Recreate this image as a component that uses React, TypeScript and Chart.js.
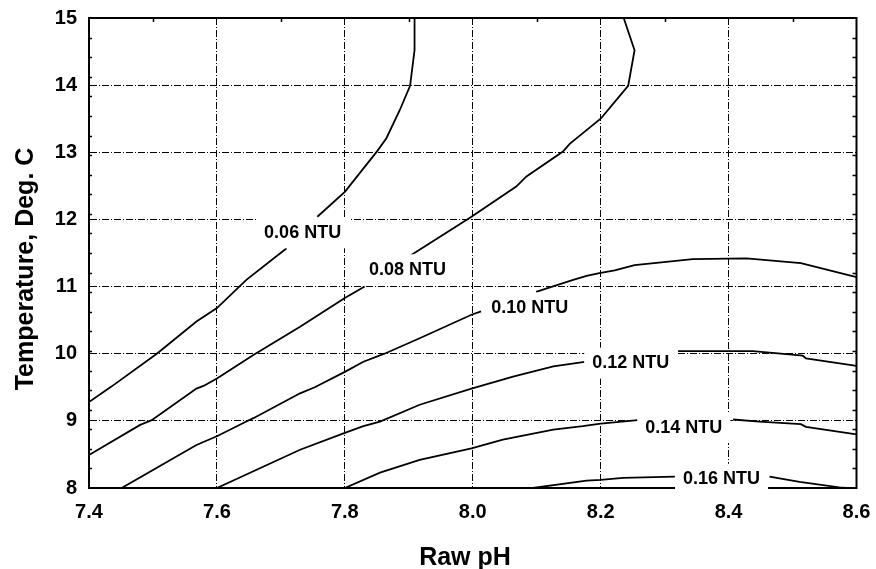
import { useEffect, useRef } from "react";
import { Chart, registerables } from "chart.js";

Chart.register(...registerables);

// Axis ticks
const xTicks = [7.4, 7.6, 7.8, 8.0, 8.2, 8.4, 8.6];
const yTicks = [8, 9, 10, 11, 12, 13, 14, 15];
const topMinorTicks = [7.5, 7.7, 7.9, 8.1, 8.3, 8.5];
const sideMinorDivisions = 24;

// Contour lines (null = break for the inline label)
const c006x = [7.4, 7.435, 7.506, 7.568, 7.6, 7.646, 7.709, 7.73, 7.757, 7.8, 7.85, 7.865, 7.886, 7.902, 7.909, 7.909];
const c006y = [9.28, 9.51, 10.0, 10.48, 10.68, 11.1, 11.57, null, 12.04, 12.41, 13.01, 13.21, 13.63, 13.99, 14.52, 15.0];

const c008x = [7.4, 7.48, 7.498, 7.568, 7.579, 7.6, 7.657, 7.73, 7.8, 7.831, 7.87, 7.902, 7.998, 8.068, 8.084, 8.141, 8.152, 8.2, 8.222, 8.243, 8.253, 8.236];
const c008y = [8.49, 8.94, 9.01, 9.48, 9.52, 9.63, 9.98, 10.4, 10.83, 11.0, null, 11.46, 12.04, 12.49, 12.64, 13.01, 13.13, 13.5, 13.75, 13.99, 14.52, 15.0];

const c010x = [7.451, 7.568, 7.6, 7.646, 7.657, 7.73, 7.753, 7.8, 7.829, 7.862, 7.917, 7.998, 8.013, 8.05, 8.099, 8.157, 8.178, 8.198, 8.222, 8.253, 8.344, 8.428, 8.513, 8.6];
const c010y = [8.0, 8.64, 8.77, 8.99, 9.04, 9.41, 9.5, 9.73, 9.88, 10.0, 10.23, 10.58, 10.63, null, 10.92, 11.1, 11.16, 11.2, 11.24, 11.32, 11.41, 11.42, 11.35, 11.14];

const c012x = [7.6, 7.73, 7.8, 7.829, 7.855, 7.917, 7.998, 8.063, 8.126, 8.175, 8.25, 8.321, 8.402, 8.438, 8.516, 8.521, 8.6];
const c012y = [8.0, 8.57, 8.82, 8.92, 8.99, 9.24, 9.48, 9.66, 9.81, 9.88, null, 10.04, 10.04, 10.04, 9.97, 9.93, 9.82];

const c014x = [7.8, 7.855, 7.917, 7.998, 8.047, 8.126, 8.172, 8.2, 8.258, 8.33, 8.407, 8.448, 8.513, 8.521, 8.6];
const c014y = [8.0, 8.23, 8.42, 8.59, 8.72, 8.87, 8.92, 8.96, 9.01, null, 9.02, 8.99, 8.95, 8.91, 8.8];

const c016x = [8.094, 8.178, 8.2, 8.235, 8.316, 8.39, 8.464, 8.511, 8.573, 8.584];
const c016y = [8.0, 8.11, 8.12, 8.15, 8.17, null, 8.17, 8.09, 8.01, 8.0];

// Inline contour labels
const labelTexts = ["0.06 NTU", "0.08 NTU", "0.10 NTU", "0.12 NTU", "0.14 NTU", "0.16 NTU"];
const labelX = [7.734, 7.898, 8.089, 8.247, 8.33, 8.389];
const labelY = [11.8, 11.25, 10.68, 9.86, 8.9, 8.13];

const xTitle = "Raw pH";
const yTitle = "Temperature, Deg. C";

const FONT = '"Liberation Sans", Arial, Helvetica, sans-serif';

const contours = [
  [c006x, c006y],
  [c008x, c008y],
  [c010x, c010y],
  [c012x, c012y],
  [c014x, c014y],
  [c016x, c016y],
];

const decorPlugin = {
  id: "decor",
  beforeDatasetsDraw(chart: any) {
    const { ctx, chartArea: a, scales } = chart;
    ctx.save();
    ctx.strokeStyle = "#000";
    ctx.lineWidth = 2;
    ctx.beginPath();
    ctx.moveTo(a.left - 1, a.top);
    ctx.lineTo(a.right, a.top);
    ctx.lineTo(a.right, a.bottom + 1);
    ctx.stroke();
    ctx.lineWidth = 1.5;
    ctx.beginPath();
    for (const v of topMinorTicks) {
      const px = Math.round(scales.x.getPixelForValue(v)) + 0.5;
      ctx.moveTo(px, a.top);
      ctx.lineTo(px, a.top + 4);
    }
    for (let k = 1; k < sideMinorDivisions; k++) {
      const v = 8 + (7 * k) / sideMinorDivisions;
      const py = Math.round(scales.y.getPixelForValue(v)) + 0.5;
      ctx.moveTo(a.left, py);
      ctx.lineTo(a.left + 3, py);
      ctx.moveTo(a.right - 4, py);
      ctx.lineTo(a.right, py);
    }
    ctx.stroke();
    ctx.restore();
  },
  afterDatasetsDraw(chart: any) {
    const { ctx, scales } = chart;
    ctx.save();
    ctx.font = `bold 18px ${FONT}`;
    ctx.textAlign = "center";
    ctx.textBaseline = "middle";
    for (let i = 0; i < labelTexts.length; i++) {
      const cx = scales.x.getPixelForValue(labelX[i]);
      const cy = scales.y.getPixelForValue(labelY[i]);
      const w = ctx.measureText(labelTexts[i]).width;
      ctx.fillStyle = "#fff";
      ctx.fillRect(cx - w / 2 - 8, cy - 15.5, w + 16, 31);
      ctx.fillStyle = "#000";
      ctx.fillText(labelTexts[i], cx, cy);
    }
    // axis titles
    ctx.font = `bold 25px ${FONT}`;
    ctx.textAlign = "center";
    ctx.textBaseline = "alphabetic";
    ctx.fillText(xTitle, 465, 565);
    ctx.translate(33, 269);
    ctx.rotate(-Math.PI / 2);
    ctx.fillText(yTitle, 0, 0);
    ctx.restore();
  },
};

export default function App() {
  const ref = useRef<HTMLCanvasElement | null>(null);
  useEffect(() => {
    document.body.style.margin = "0";
    const canvas = ref.current;
    if (!canvas) return;
    const datasets = contours.map(([xs, ys]) => ({
      data: xs.map((x, i) => ({ x, y: ys[i] })),
      borderColor: "#000",
      borderWidth: 1.8,
      pointRadius: 0,
      showLine: true,
      fill: false,
      tension: 0,
      spanGaps: false,
    }));
    const chart = new Chart(canvas, {
      type: "scatter",
      data: { datasets: datasets as any },
      options: {
        responsive: false,
        animation: false,
        devicePixelRatio: 1,
        layout: { padding: { top: 18, right: 19.5, left: 0, bottom: 0 } },
        plugins: { legend: { display: false }, tooltip: { enabled: false } },
        scales: {
          x: {
            type: "linear",
            min: 7.4,
            max: 8.6,
            afterBuildTicks: (s: any) => {
              s.ticks = xTicks.map((v) => ({ value: v }));
            },
            afterFit: (s: any) => {
              s.height = 81;
              s.paddingLeft = 0;
              s.paddingRight = 0;
              s.paddingTop = 0;
              s.paddingBottom = 0;
            },
            ticks: {
              color: "#000",
              padding: 12,
              font: { family: FONT, size: 20, weight: "bold" },
              callback: (v: any) => Number(v).toFixed(1),
              maxRotation: 0,
              autoSkip: false,
            },
            grid: { color: "#000", lineWidth: 1, drawTicks: false },
            border: { display: true, color: "#000", width: 2, dash: [7, 2, 1, 2] },
          },
          y: {
            type: "linear",
            min: 8,
            max: 15,
            afterBuildTicks: (s: any) => {
              s.ticks = yTicks.map((v) => ({ value: v }));
            },
            afterFit: (s: any) => {
              s.width = 89;
              s.paddingLeft = 0;
              s.paddingRight = 0;
              s.paddingTop = 0;
              s.paddingBottom = 0;
            },
            ticks: {
              color: "#000",
              padding: 12,
              font: { family: FONT, size: 20, weight: "bold" },
              callback: (v: any) => String(v),
              autoSkip: false,
            },
            grid: { color: "#000", lineWidth: 1, drawTicks: false },
            border: { display: true, color: "#000", width: 2, dash: [7, 2, 1, 2] },
          },
        },
      },
      plugins: [decorPlugin],
    });
    return () => chart.destroy();
  }, []);
  return (
    <canvas
      ref={ref}
      width={876}
      height={569}
      style={{ display: "block", width: 876, height: 569 }}
    />
  );
}
